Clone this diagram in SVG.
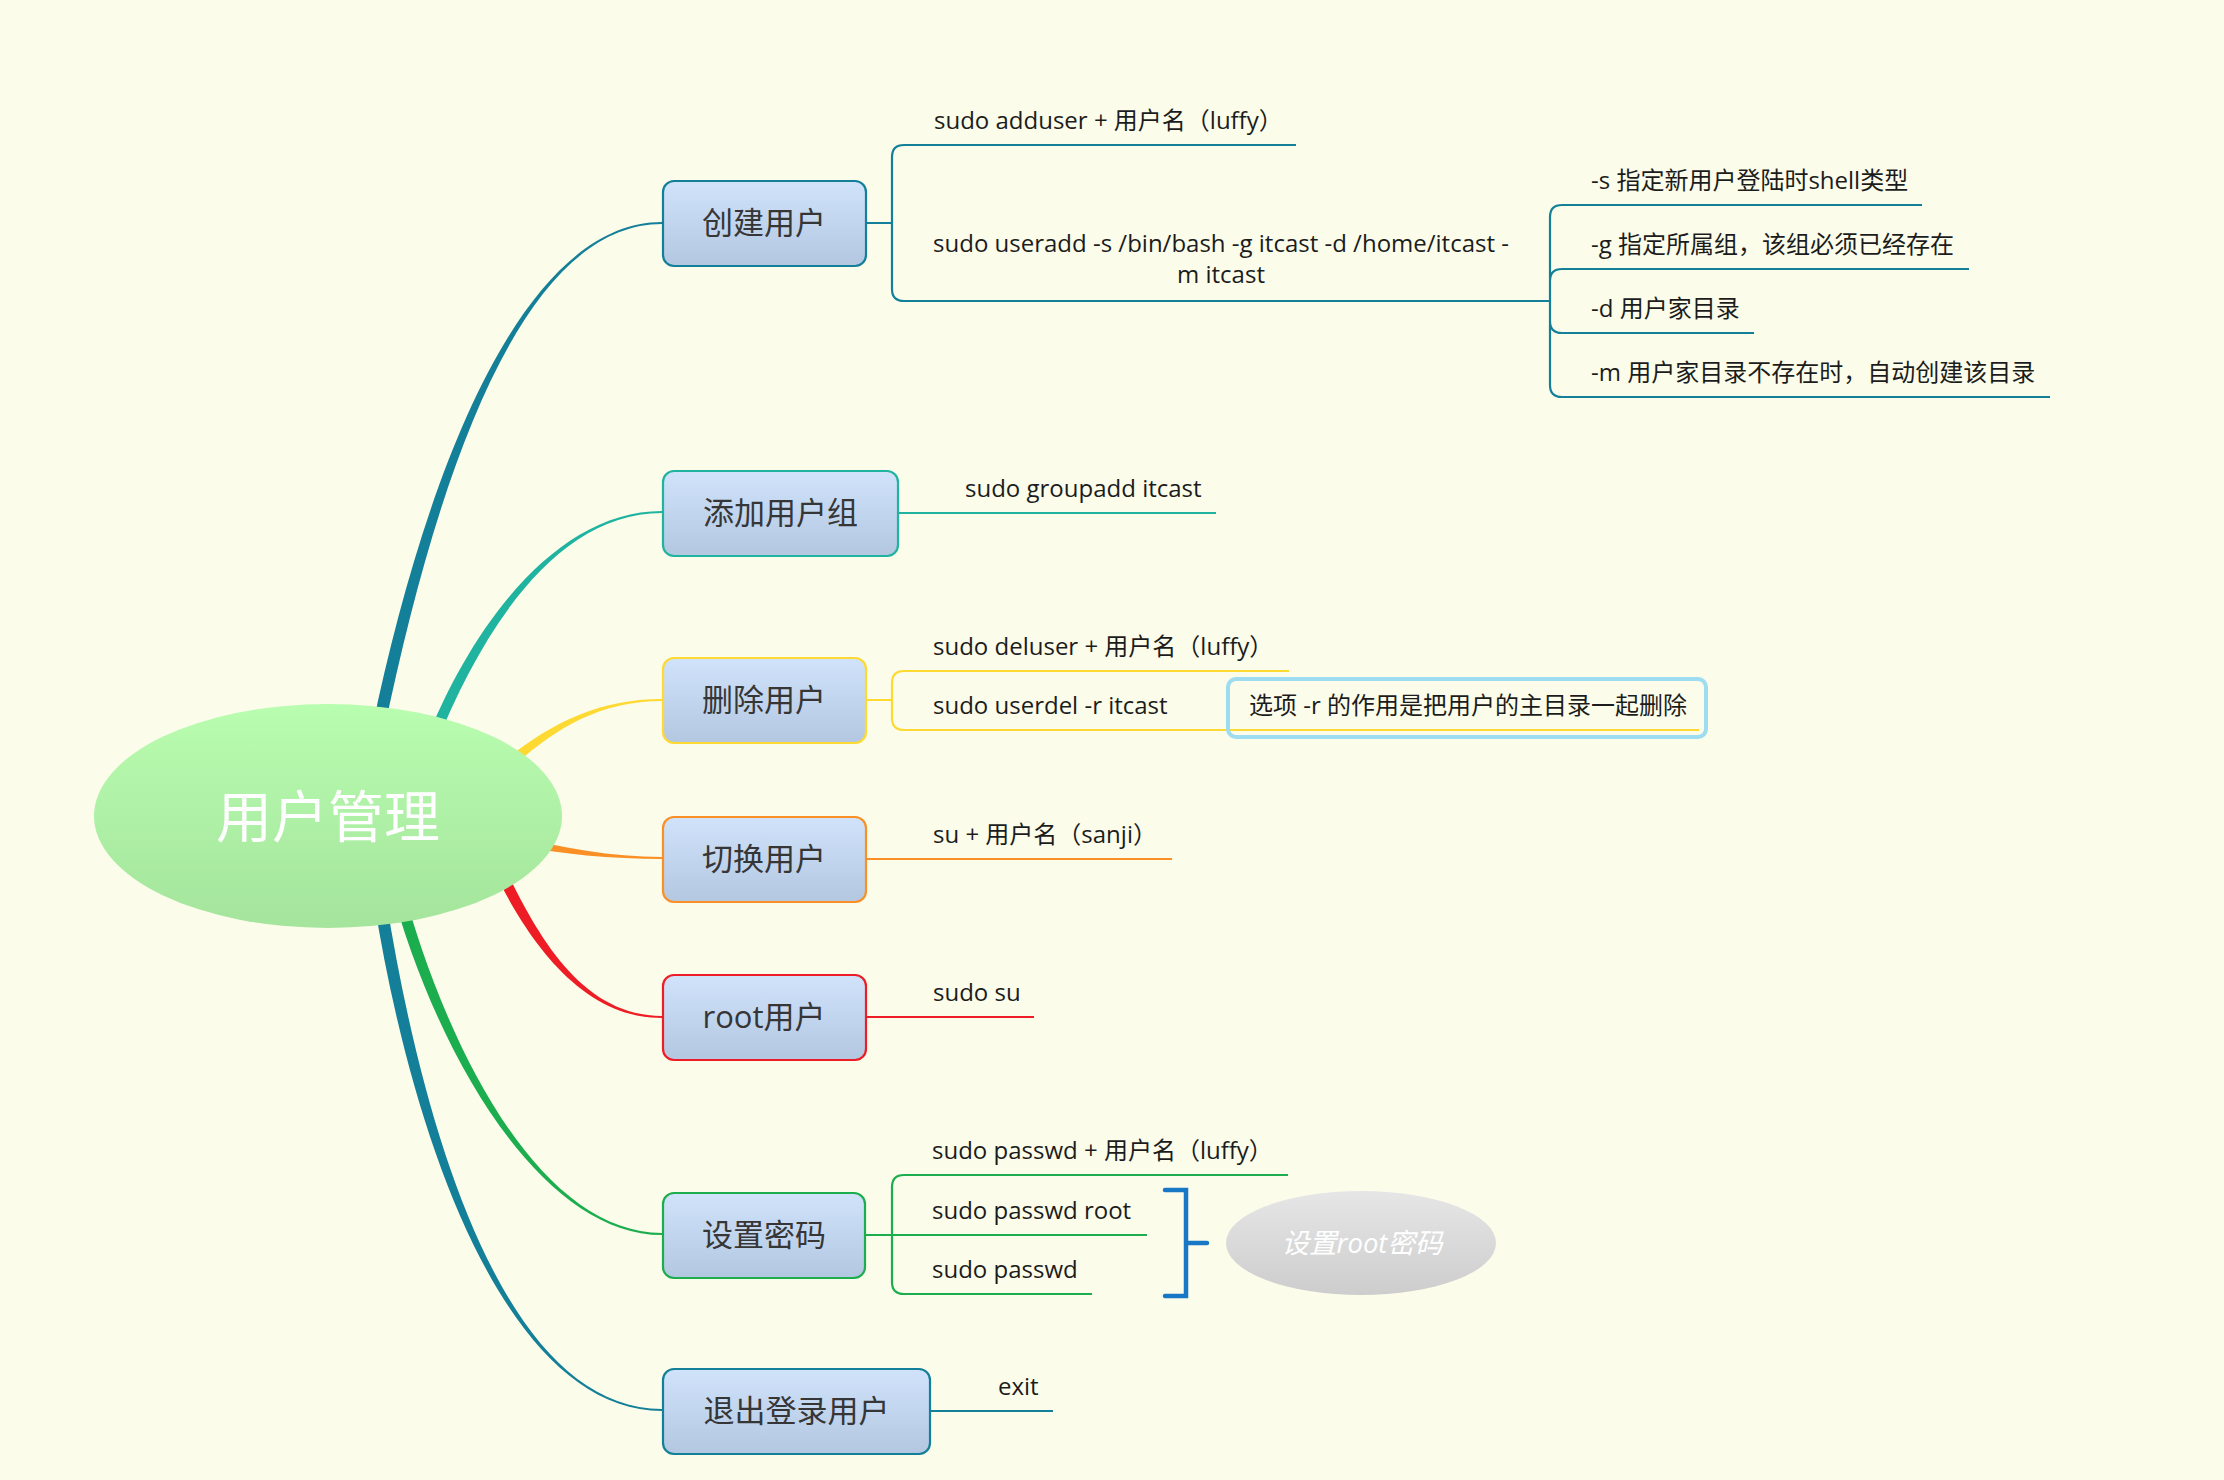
<svg xmlns="http://www.w3.org/2000/svg" width="2224" height="1480" viewBox="0 0 2224 1480">
<defs>
<linearGradient id="gBox" x1="0" y1="0" x2="0" y2="1"><stop offset="0" stop-color="#d0e3fb"/><stop offset="1" stop-color="#b4c7e1"/></linearGradient>
<linearGradient id="gCenter" x1="0" y1="0" x2="0" y2="1"><stop offset="0" stop-color="#b9fdb0"/><stop offset="1" stop-color="#a4e49c"/></linearGradient>
<linearGradient id="gGray" x1="0" y1="0" x2="0" y2="1"><stop offset="0" stop-color="#e6e6e6"/><stop offset="1" stop-color="#cdcdcd"/></linearGradient>
<style>
.box{fill:url(#gBox);stroke-width:2.2}
.bt{font-family:"Open Sans","Noto Sans CJK SC",sans-serif;font-size:31px;fill:#363636;text-anchor:middle}
.st{font-family:"Open Sans","Noto Sans CJK SC",sans-serif;font-size:24px;fill:#1c1c1c}
.ln{fill:none;stroke-width:2.2}
.c1{stroke:#137f98}.c2{stroke:#1fb3a0}.c3{stroke:#fed932}.c4{stroke:#f98f25}.c5{stroke:#ee1c24}.c6{stroke:#1cad4e}
</style>
</defs>
<rect width="2224" height="1480" fill="#fbfcea"/>
<g id="connectors">
<path fill="#137f98" d="M384 731.1 C436 481.1 520 224 662 224 L662 222 C520 222 424 478.9 372 728.9 Z"/>
<path fill="#1fb3a0" d="M435 746.9 C485 621.9 560 513 662 513 L662 511 C560 511 475 618.1 425 743.1 Z"/>
<path fill="#fed932" d="M474 804 C529 749 580 701 662 701 L662 699 C580 699 521 741 466 796 Z"/>
<path fill="#f98f25" d="M469 834.5 C539 852.5 600 859 662 859 L662 857 C600 857 541 843.5 471 825.5 Z"/>
<path fill="#ee1c24" d="M490 862.5 C525 937.5 580 1018 662 1018 L662 1016 C580 1016 535 932.5 500 857.5 Z"/>
<path fill="#1cad4e" d="M389.5 881.5 C434.5 1051.5 540 1235 662 1235 L662 1233 C540 1233 445.5 1048.5 400.5 878.5 Z"/>
<path fill="#137f98" d="M374 901 C414 1151 510 1411 662 1411 L662 1409 C510 1409 426 1149 386 899 Z"/>
<path class="ln c1" d="M866 223 H892 M892 157 V289 M892 157 Q892 145 904 145 H1296 M892 289 Q892 301 904 301 H1550"/>
<path class="ln c1" d="M1550 217 V385 M1550 217 Q1550 205 1562 205 H1922 M1550 281 Q1550 269 1562 269 H1969 M1550 321 Q1550 333 1562 333 H1754 M1550 385 Q1550 397 1562 397 H2050"/>
<path class="ln c2" d="M898 513 H1216"/>
<path class="ln c3" d="M866 700 H892 M892 683 V718 M892 683 Q892 671 904 671 H1289 M892 718 Q892 730 904 730 H1699"/>
<path class="ln c4" d="M866 859 H1172"/>
<path class="ln c5" d="M866 1017 H1034"/>
<path class="ln c6" d="M865 1235 H1147 M892 1187 V1282 M892 1187 Q892 1175 904 1175 H1288 M892 1282 Q892 1294 904 1294 H1092"/>
<path class="ln c1" d="M930 1411 H1053"/>
<path d="M1165 1190 H1186 V1296 H1165 M1186 1243 H1207" fill="none" stroke="#1878c6" stroke-width="4.5" stroke-linecap="round" stroke-linejoin="miter"/>
</g>
<g id="center">
<ellipse cx="328" cy="816" rx="234" ry="112" fill="url(#gCenter)"/>
<text x="328" y="837" font-family="'Noto Sans CJK SC',sans-serif" font-size="56" fill="#ffffff" text-anchor="middle">用户管理</text>
</g>
<g id="node-create">
<rect class="box c1" x="663" y="181" width="203" height="85" rx="11"/>
<text class="bt" x="764" y="234">创建用户</text>
</g>
<g id="node-create-c1"><text class="st" x="934" y="129">sudo adduser + 用户名（luffy）</text></g>
<g id="node-create-c2"><text class="st" text-anchor="middle" x="1221" y="252">sudo useradd -s /bin/bash -g itcast -d /home/itcast -</text><text class="st" text-anchor="middle" x="1221" y="283">m itcast</text></g>
<g id="node-opt-s"><text class="st" x="1591" y="189">-s 指定新用户登陆时shell类型</text></g>
<g id="node-opt-g"><text class="st" x="1591" y="253">-g 指定所属组，该组必须已经存在</text></g>
<g id="node-opt-d"><text class="st" x="1591" y="317">-d 用户家目录</text></g>
<g id="node-opt-m"><text class="st" x="1591" y="381">-m 用户家目录不存在时，自动创建该目录</text></g>
<g id="node-group">
<rect class="box c2" x="663" y="471" width="235" height="85" rx="11"/>
<text class="bt" x="780.5" y="524">添加用户组</text>
</g>
<g id="node-group-c1"><text class="st" x="965" y="497">sudo groupadd itcast</text></g>
<g id="node-delete">
<rect class="box c3" x="663" y="658" width="203" height="85" rx="11"/>
<text class="bt" x="764" y="711">删除用户</text>
</g>
<g id="node-delete-c1"><text class="st" x="933" y="655">sudo deluser + 用户名（luffy）</text></g>
<g id="node-delete-c2"><text class="st" x="933" y="714">sudo userdel -r itcast</text></g>
<g id="node-delete-note">
<rect x="1228" y="679" width="478" height="58" rx="8" fill="none" stroke="#9edcf1" stroke-width="4"/>
<text class="st" x="1249" y="714">选项 -r 的作用是把用户的主目录一起删除</text>
</g>
<g id="node-switch">
<rect class="box c4" x="663" y="817" width="203" height="85" rx="11"/>
<text class="bt" x="764" y="870">切换用户</text>
</g>
<g id="node-switch-c1"><text class="st" x="933" y="843">su + 用户名（sanji）</text></g>
<g id="node-root">
<rect class="box c5" x="663" y="975" width="203" height="85" rx="11"/>
<text class="bt" x="764" y="1028">root用户</text>
</g>
<g id="node-root-c1"><text class="st" x="933" y="1001">sudo su</text></g>
<g id="node-passwd">
<rect class="box c6" x="663" y="1193" width="202" height="85" rx="11"/>
<text class="bt" x="764" y="1246">设置密码</text>
</g>
<g id="node-passwd-c1"><text class="st" x="932" y="1159">sudo passwd + 用户名（luffy）</text></g>
<g id="node-passwd-c2"><text class="st" x="932" y="1219">sudo passwd root</text></g>
<g id="node-passwd-c3"><text class="st" x="932" y="1278">sudo passwd</text></g>
<g id="node-summary">
<ellipse cx="1361" cy="1243" rx="135" ry="52" fill="url(#gGray)"/>
<text x="1362" y="1253" font-family="'Open Sans','Noto Sans CJK SC',sans-serif" font-size="27.5" font-style="italic" fill="#ffffff" text-anchor="middle">设置root密码</text>
</g>
<g id="node-exit">
<rect class="box c1" x="663" y="1369" width="267" height="85" rx="11"/>
<text class="bt" x="796.5" y="1422">退出登录用户</text>
</g>
<g id="node-exit-c1"><text class="st" x="998" y="1395">exit</text></g>
</svg>
